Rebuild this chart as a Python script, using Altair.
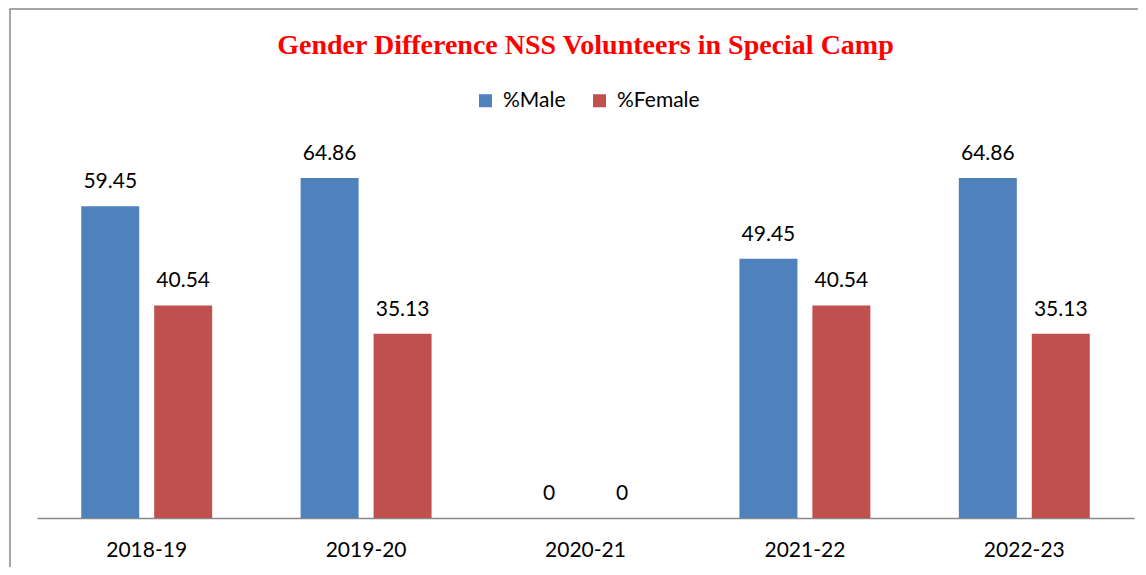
import altair as alt
import pandas as pd

years = ["2018-19", "2019-20", "2020-21", "2021-22", "2022-23"]
male = [59.45, 64.86, 0, 49.45, 64.86]
female = [40.54, 35.13, 0, 40.54, 35.13]
series = ["%Male", "%Female"]
colors = ["#4F81BD", "#C0504D"]

rows = []
for i, y in enumerate(years):
    rows.append({"year": y, "series": series[0], "value": male[i]})
    rows.append({"year": y, "series": series[1], "value": female[i]})
df = pd.DataFrame(rows)

W, H = 1097, 367

x = alt.X("year:N", sort=years, title=None,
          scale=alt.Scale(paddingInner=0.335, paddingOuter=0.1675, round=False),
          axis=alt.Axis(labelAngle=0, labelFont="Lato", labelFontSize=21, labelColor="#000000",
                        labelPadding=21, ticks=False, domainColor="#898989", domainWidth=1.5))
xo = alt.XOffset("series:N", sort=series,
                 scale=alt.Scale(paddingInner=0.205, paddingOuter=0.1025, round=False))
y = alt.Y("value:Q", scale=alt.Scale(domain=[0, 70], nice=False), axis=None)

bars = alt.Chart(df).mark_bar().encode(
    x=x, xOffset=xo, y=y,
    color=alt.Color("series:N", sort=series, scale=alt.Scale(domain=series, range=colors),
                    legend=alt.Legend(title=None, orient="none", legendX=438, legendY=-61,
                                      direction="horizontal", symbolType="square", symbolSize=169,
                                      symbolStrokeWidth=0, labelFont="Lato", labelFontSize=21,
                                      labelColor="#000000", labelOffset=7, columnPadding=23,
                                      padding=0)),
)

labels = alt.Chart(df).mark_text(baseline="alphabetic", dy=-18, font="Lato", fontSize=21,
                                 color="#000000").encode(
    x=x, xOffset=xo, y=y, text=alt.Text("value:Q", format="~g"))

border_df = pd.DataFrame({"k": [0]})
left_border = alt.Chart(border_df).mark_rule(color="#888888", strokeWidth=1.5).encode(
    x=alt.value(-27), y=alt.value(-142), y2=alt.value(416))
top_border = alt.Chart(border_df).mark_rule(color="#888888", strokeWidth=1.5).encode(
    y=alt.value(-142), x=alt.value(-27.5), x2=alt.value(1101))

chart = alt.layer(bars, labels, left_border, top_border).properties(
    width=W, height=H,
    background="#FFFFFF",
    title=alt.TitleParams("Gender Difference NSS Volunteers in Special Camp",
                          font="Liberation Serif", fontSize=28, fontWeight="bold",
                          color="#FF0000", anchor="middle", offset=-52),
    autosize=alt.AutoSizeParams(type="none"),
    padding={"left": 29, "top": 143, "right": 4, "bottom": 49},
).configure_view(strokeWidth=0, stroke="transparent")

chart.save("out.html", embed_options={"renderer": "svg", "actions": False})
